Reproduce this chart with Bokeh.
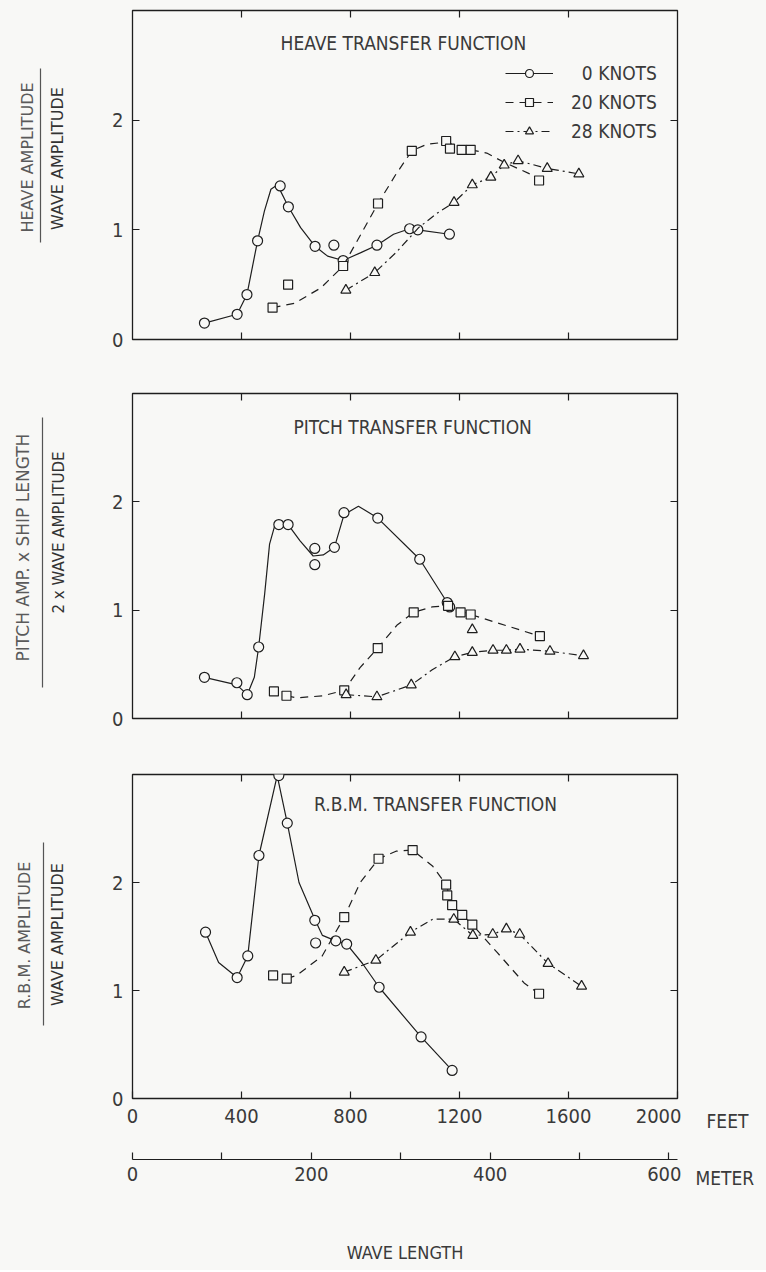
from math import pi
from bokeh.plotting import figure
from bokeh.models import Range1d, LinearAxis, FixedTicker, Label, Arrow, Legend, LegendItem
from bokeh.layouts import column, row
from bokeh.embed import file_html
from bokeh.resources import INLINE

# ---------------- data (wave length in feet, transfer function values) ----------------
SERIES = ["0 KNOTS", "20 KNOTS", "28 KNOTS"]
LEGEND_LABELS = ["\u20070 KNOTS", "20 KNOTS", "28 KNOTS"]

X_TICKS_FT = [0, 400, 800, 1200, 1600, 2000]
X_TICK_LABELS_FT = ["0", "400", "800", "1200", "1600", "2000"]
X_INNER_TICKS_FT = [400, 800, 1200, 1600]
M_TICKS = [0, 100, 200, 300, 400, 500, 600]
M_TICK_LABELS = ["0", "", "200", "", "400", "", "600"]
Y_TICKS = [0, 1, 2]
Y_TICK_LABELS = ["0", "1", "2"]
Y_INNER_TICKS = [1, 2]

# Heave
heave_0_x = [264, 384, 420, 459, 542, 572, 670, 739, 773, 897, 1017, 1047, 1163]
heave_0_y = [0.15, 0.23, 0.41, 0.90, 1.40, 1.21, 0.85, 0.86, 0.72, 0.86, 1.01, 1.00, 0.96]
heave_0_curve_x = [264, 384, 420, 459, 484, 508, 532, 572, 617, 670, 716, 773, 836, 897, 958, 1017, 1047, 1163]
heave_0_curve_y = [0.15, 0.23, 0.41, 0.90, 1.17, 1.37, 1.41, 1.21, 1.02, 0.85, 0.76, 0.72, 0.79, 0.86, 0.96, 1.01, 1.00, 0.96]

heave_20_x = [514, 571, 773, 901, 1025, 1151, 1165, 1208, 1241, 1492]
heave_20_y = [0.29, 0.50, 0.67, 1.24, 1.72, 1.81, 1.74, 1.73, 1.73, 1.45]
heave_20_curve_x = [514, 594, 691, 773, 901, 965, 1025, 1080, 1151, 1208, 1241, 1300, 1360, 1458, 1492]
heave_20_curve_y = [0.29, 0.33, 0.47, 0.67, 1.24, 1.50, 1.72, 1.78, 1.80, 1.75, 1.73, 1.70, 1.62, 1.51, 1.45]

heave_28_x = [783, 889, 1180, 1247, 1315, 1364, 1415, 1522, 1638]
heave_28_y = [0.45, 0.61, 1.25, 1.41, 1.48, 1.59, 1.63, 1.56, 1.51]
heave_28_curve_x = [783, 889, 970, 1050, 1117, 1180, 1247, 1315, 1364, 1415, 1522, 1638]
heave_28_curve_y = [0.45, 0.61, 0.80, 1.02, 1.15, 1.25, 1.41, 1.48, 1.59, 1.63, 1.56, 1.51]

# Pitch
pitch_0_x = [264, 383, 421, 463, 537, 571, 669, 669, 741, 776, 900, 1054, 1155, 1164]
pitch_0_y = [0.38, 0.33, 0.22, 0.66, 1.79, 1.79, 1.57, 1.42, 1.58, 1.90, 1.85, 1.47, 1.07, 1.03]
pitch_0_curve_x = [264, 383, 421, 447, 463, 485, 503, 522, 537, 571, 615, 663, 700, 741, 776, 829, 900, 1054, 1160]
pitch_0_curve_y = [0.38, 0.31, 0.22, 0.38, 0.66, 1.15, 1.61, 1.78, 1.79, 1.79, 1.64, 1.50, 1.51, 1.58, 1.88, 1.96, 1.85, 1.47, 1.05]

pitch_20_x = [519, 565, 777, 900, 1032, 1158, 1204, 1241, 1495]
pitch_20_y = [0.25, 0.21, 0.26, 0.65, 0.98, 1.04, 0.98, 0.96, 0.76]
pitch_20_curve_x = [565, 602, 700, 777, 835, 900, 970, 1032, 1100, 1158, 1204, 1241, 1495]
pitch_20_curve_y = [0.21, 0.19, 0.21, 0.26, 0.47, 0.65, 0.86, 0.98, 1.03, 1.04, 0.99, 0.96, 0.76]

pitch_28_x = [784, 897, 1023, 1183, 1247, 1247, 1323, 1372, 1422, 1532, 1655]
pitch_28_y = [0.22, 0.20, 0.31, 0.57, 0.61, 0.82, 0.63, 0.63, 0.64, 0.62, 0.58]
pitch_28_curve_x = [784, 897, 1023, 1100, 1183, 1247, 1323, 1372, 1422, 1532, 1655]
pitch_28_curve_y = [0.22, 0.20, 0.31, 0.45, 0.57, 0.61, 0.63, 0.63, 0.64, 0.62, 0.58]

# R.B.M.
rbm_0_x = [268, 384, 423, 464, 537, 568, 669, 672, 746, 786, 905, 1059, 1173]
rbm_0_y = [1.54, 1.12, 1.32, 2.25, 2.99, 2.55, 1.65, 1.44, 1.46, 1.43, 1.03, 0.57, 0.26]
rbm_0_curve_x = [268, 316, 384, 423, 464, 531, 568, 611, 669, 697, 746, 786, 844, 905, 1059, 1173]
rbm_0_curve_y = [1.54, 1.26, 1.12, 1.32, 2.25, 2.99, 2.55, 2.00, 1.66, 1.51, 1.46, 1.43, 1.25, 1.03, 0.57, 0.26]

rbm_20_x = [516, 566, 777, 903, 1028, 1151, 1155, 1173, 1210, 1247, 1492]
rbm_20_y = [1.14, 1.11, 1.68, 2.22, 2.30, 1.98, 1.88, 1.79, 1.70, 1.61, 0.97]
rbm_20_curve_x = [566, 603, 696, 777, 836, 903, 967, 1028, 1102, 1151, 1173, 1210, 1247, 1339, 1437, 1492]
rbm_20_curve_y = [1.11, 1.14, 1.32, 1.68, 2.00, 2.22, 2.29, 2.30, 2.15, 1.98, 1.79, 1.70, 1.61, 1.35, 1.07, 0.97]

rbm_28_x = [777, 893, 1020, 1179, 1249, 1322, 1372, 1421, 1525, 1648]
rbm_28_y = [1.17, 1.28, 1.54, 1.66, 1.51, 1.52, 1.57, 1.52, 1.25, 1.04]
rbm_28_curve_x = [777, 893, 1020, 1102, 1179, 1249, 1322, 1372, 1421, 1525, 1648]
rbm_28_curve_y = [1.17, 1.28, 1.54, 1.66, 1.66, 1.51, 1.52, 1.57, 1.52, 1.25, 1.04]

# ---------------- styling ----------------
FONT = "DejaVu Sans Condensed, DejaVu Sans, sans-serif"
LABFONT = "DejaVu Sans"
BG = "#f8f8f6"
INK = "#1e1e1e"
TXT = "#3a3a3a"
STYLE = {
    "0 KNOTS": dict(marker="circle", size=10, dash="solid"),
    "20 KNOTS": dict(marker="square", size=9, dash="8 6"),
    "28 KNOTS": dict(marker="triangle", size=10, dash="8 4 2 4"),
}
LEFT_W, MID_W, RIGHT_W = 80, 601, 85
BL, BR = 52, 4
TOTAL_H = 1270
BGSTYLE = {"background-color": BG}


def hidden_axis(ticks):
    return LinearAxis(ticker=FixedTicker(ticks=ticks),
                      major_label_overrides={t: "" for t in ticks},
                      major_label_text_font_size="1px", major_label_standoff=0,
                      major_tick_in=7, major_tick_out=0, major_tick_line_color=INK,
                      major_tick_line_width=1.2, axis_line_color=None)


def panel(height, btop, bbot, with_labels):
    p = figure(width=MID_W, height=height, x_range=Range1d(0, 2000), y_range=Range1d(0, 3),
               output_backend="svg", toolbar_location=None,
               x_axis_location=None, y_axis_location=None,
               min_border_left=BL, min_border_right=BR,
               min_border_top=btop, min_border_bottom=bbot,
               background_fill_color=BG, border_fill_color=BG,
               outline_line_color=INK, outline_line_width=1.3, styles=BGSTYLE)
    p.grid.visible = False
    left = LinearAxis(ticker=FixedTicker(ticks=Y_TICKS),
                      major_label_overrides=dict(zip(Y_TICKS, Y_TICK_LABELS)),
                      major_tick_in=7, major_tick_out=0, major_tick_line_color=INK,
                      major_tick_line_width=1.2, axis_line_color=None,
                      major_label_standoff=9, major_label_text_font=FONT,
                      major_label_text_font_size="20px", major_label_text_color=TXT)
    p.add_layout(left, "left")
    p.add_layout(hidden_axis(Y_INNER_TICKS), "right")
    p.add_layout(hidden_axis(X_INNER_TICKS_FT), "above")
    if with_labels:
        bottom = LinearAxis(ticker=FixedTicker(ticks=X_TICKS_FT),
                            major_label_overrides=dict(zip(X_TICKS_FT, X_TICK_LABELS_FT)),
                            major_tick_in=7, major_tick_out=0, major_tick_line_color=INK,
                            major_tick_line_width=1.2, axis_line_color=None,
                            major_label_standoff=10, major_label_text_font=FONT,
                            major_label_text_font_size="20px", major_label_text_color=TXT)
    else:
        bottom = hidden_axis(X_INNER_TICKS_FT)
    p.add_layout(bottom, "below")
    return p


def draw(p, data):
    rends = {}
    for name, (mx, my, cx, cy) in zip(SERIES, data):
        st = STYLE[name]
        lr = p.line(cx, cy, line_color=INK, line_width=1.2, line_dash=st["dash"])
        sr = p.scatter(mx, my, marker=st["marker"], size=st["size"], fill_color=BG,
                       line_color=INK, line_width=1.2)
        rends[name] = (lr, sr)
    return rends


def title(p, text, x, y):
    p.add_layout(Label(x=x, y=y, text=text, text_align="center", text_baseline="middle",
                       text_font=FONT, text_font_size="19px", text_color=TXT))


# ---- panel 1: heave ----
p1 = panel(363, 10, 24, False)
r1 = draw(p1, [(heave_0_x, heave_0_y, heave_0_curve_x, heave_0_curve_y),
               (heave_20_x, heave_20_y, heave_20_curve_x, heave_20_curve_y),
               (heave_28_x, heave_28_y, heave_28_curve_x, heave_28_curve_y)])
title(p1, "HEAVE TRANSFER FUNCTION", 994, 2.70)
legend = Legend(items=[LegendItem(label=lab, renderers=list(r1[s]))
                       for lab, s in zip(LEGEND_LABELS, SERIES)],
                location=(373, 197), orientation="vertical",
                glyph_width=48, glyph_height=20, label_height=20, spacing=7,
                label_standoff=18, padding=0, margin=0,
                border_line_color=None, background_fill_alpha=0,
                label_text_font=FONT, label_text_font_size="19px", label_text_color=TXT)
p1.add_layout(legend)

# ---- panel 2: pitch ----
p2 = panel(375, 30, 20, False)
draw(p2, [(pitch_0_x, pitch_0_y, pitch_0_curve_x, pitch_0_curve_y),
          (pitch_20_x, pitch_20_y, pitch_20_curve_x, pitch_20_curve_y),
          (pitch_28_x, pitch_28_y, pitch_28_curve_x, pitch_28_curve_y)])
title(p2, "PITCH TRANSFER FUNCTION", 1028, 2.69)

# ---- panel 3: R.B.M. ----
p3 = panel(401, 36, 41, True)
draw(p3, [(rbm_0_x, rbm_0_y, rbm_0_curve_x, rbm_0_curve_y),
          (rbm_20_x, rbm_20_y, rbm_20_curve_x, rbm_20_curve_y),
          (rbm_28_x, rbm_28_y, rbm_28_curve_x, rbm_28_curve_y)])
title(p3, "R.B.M. TRANSFER FUNCTION", 1112, 2.73)

# ---- meter scale ----
pm = figure(width=MID_W, height=131, x_range=Range1d(0, 2000 * 0.3048), y_range=Range1d(0, 1),
            output_backend="svg", toolbar_location=None,
            x_axis_location=None, y_axis_location=None,
            min_border_left=BL, min_border_right=BR, min_border_top=10, min_border_bottom=111,
            background_fill_color=BG, border_fill_color=BG, outline_line_color=None,
            styles=BGSTYLE)
pm.grid.visible = False
max_ = LinearAxis(ticker=FixedTicker(ticks=M_TICKS),
                  major_label_overrides=dict(zip(M_TICKS, M_TICK_LABELS)),
                  major_tick_in=7, major_tick_out=0, major_tick_line_color=INK,
                  major_tick_line_width=1.2, axis_line_color=INK, axis_line_width=1.2,
                  major_label_standoff=7, major_label_text_font=FONT,
                  major_label_text_font_size="20px", major_label_text_color=TXT,
                  axis_label="WAVE LENGTH", axis_label_standoff=58,
                  axis_label_text_font=FONT, axis_label_text_font_style="normal",
                  axis_label_text_font_size="18px", axis_label_text_color=TXT)
pm.add_layout(max_, "below")


# ---- side strips holding the axis titles (page-pixel coordinates) ----
def strip(width, x0):
    s = figure(width=width, height=TOTAL_H, x_range=Range1d(x0, x0 + width),
               y_range=Range1d(TOTAL_H, 0), output_backend="svg", toolbar_location=None,
               x_axis_location=None, y_axis_location=None,
               min_border_left=0, min_border_right=0, min_border_top=0, min_border_bottom=0,
               background_fill_color=BG, border_fill_color=BG, outline_line_color=None,
               styles=BGSTYLE)
    s.grid.visible = False
    return s


left = strip(LEFT_W, 0)


def ylabel(num, den, xn, yn, xb, yb0, yb1, xd, yd, fs_num="16px", fs_den="16px"):
    left.add_layout(Label(x=xn, y=yn, text=num, angle=pi / 2, text_align="center",
                          text_baseline="middle", text_font=LABFONT, text_font_size=fs_num,
                          text_color="#5a5a5a"))
    left.add_layout(Arrow(x_start=xb, y_start=yb0, x_end=xb, y_end=yb1, start=None, end=None,
                          line_color="#555555", line_width=1.2))
    left.add_layout(Label(x=xd, y=yd, text=den, angle=pi / 2, text_align="center",
                          text_baseline="middle", text_font=LABFONT, text_font_size=fs_den,
                          text_color="#333333"))


ylabel("HEAVE AMPLITUDE", "WAVE AMPLITUDE", 27, 157, 40, 68, 242, 57, 158)
ylabel("PITCH AMP. x SHIP LENGTH", "2 x WAVE AMPLITUDE", 22, 547, 42, 417, 687, 58, 532,
       fs_num="17px", fs_den="15px")
ylabel("R.B.M. AMPLITUDE", "WAVE AMPLITUDE", 24, 935, 43, 842, 1025, 57, 934)

right = strip(RIGHT_W, LEFT_W + MID_W)
right.add_layout(Label(x=706, y=1120, text="FEET", text_align="left", text_baseline="middle",
                       text_font=FONT, text_font_size="19px", text_color=TXT))
right.add_layout(Label(x=695, y=1177, text="METER", text_align="left", text_baseline="middle",
                       text_font=FONT, text_font_size="19px", text_color=TXT))

mid = column(p1, p2, p3, pm, spacing=0, styles=BGSTYLE)
layout = row(left, mid, right, spacing=0, styles=BGSTYLE)
open("out.html", "w").write(file_html(layout, INLINE))
